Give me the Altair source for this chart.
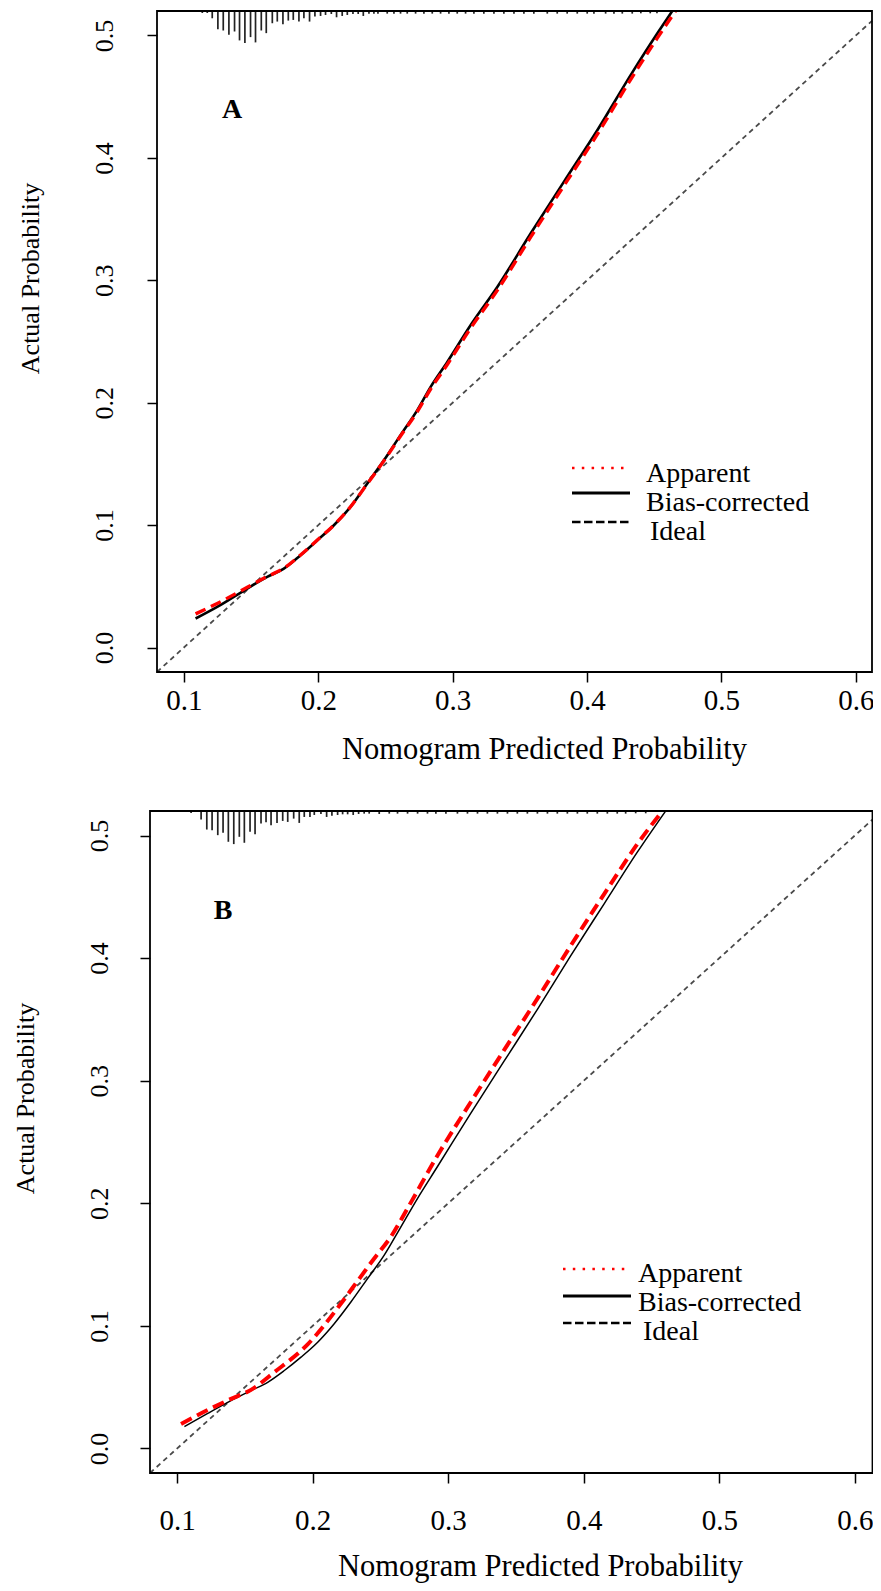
import altair as alt
import pandas as pd

# ---------------- data ----------------
x_ticks = [0.1, 0.2, 0.3, 0.4, 0.5, 0.6]
y_ticks = [0.0, 0.1, 0.2, 0.3, 0.4, 0.5]
legend_labels = ["Apparent", "Bias-corrected", "Ideal"]
panel_labels = ["A", "B"]
x_title = "Nomogram Predicted Probability"
y_title = "Actual Probability"

# Panel A
a_ideal_x = [0.08, 0.612]
a_ideal_y = [-0.02, 0.512]
a_bias_x = [0.1087, 0.1248, 0.1472, 0.1620, 0.1744, 0.1868, 0.1993, 0.2116, 0.2240, 0.2365,
            0.2488, 0.2612, 0.2737, 0.2836, 0.2960, 0.3133, 0.3332, 0.3580, 0.3827, 0.4076,
            0.4324, 0.4522, 0.4634]
a_bias_y = [0.0237, 0.0332, 0.0482, 0.0577, 0.0645, 0.0754, 0.0876, 0.0999, 0.1149, 0.1340,
            0.1529, 0.1735, 0.1939, 0.2129, 0.2333, 0.2633, 0.2945, 0.3382, 0.3804, 0.4226,
            0.4676, 0.5016, 0.5200]
a_app_x = [0.1087, 0.1248, 0.1472, 0.1620, 0.1744, 0.1868, 0.1993, 0.2116, 0.2240, 0.2365,
           0.2488, 0.2612, 0.2737, 0.2836, 0.2960, 0.3133, 0.3332, 0.3580, 0.3827, 0.4076,
           0.4324, 0.4522, 0.4658]
a_app_y = [0.0275, 0.0360, 0.0492, 0.0580, 0.0648, 0.0756, 0.0878, 0.1000, 0.1150, 0.1338,
           0.1525, 0.1728, 0.1928, 0.2112, 0.2312, 0.2608, 0.2918, 0.3352, 0.3772, 0.4192,
           0.4640, 0.4978, 0.5200]
a_rug_x = [0.1137, 0.1174, 0.1211, 0.1253, 0.1293, 0.1335, 0.1377, 0.1414, 0.1454, 0.1496,
           0.1533, 0.1576, 0.1613, 0.1658, 0.1695, 0.1737, 0.1777, 0.1814, 0.1856, 0.1893,
           0.1935, 0.1975, 0.2017, 0.2054, 0.2097, 0.2136, 0.2178, 0.2216, 0.2258, 0.2297,
           0.2335, 0.2377, 0.2414, 0.2444, 0.2513, 0.2563, 0.2612, 0.2662, 0.2724, 0.2786,
           0.2848, 0.2910, 0.2972, 0.3034, 0.3096, 0.3158, 0.3232, 0.3307, 0.3381, 0.3456,
           0.3530, 0.3604, 0.3704, 0.3778, 0.3852, 0.3927, 0.4001, 0.4051, 0.4138, 0.4200,
           0.4262, 0.4336, 0.4400, 0.4470, 0.4520]
a_rug_h = [6, 6, 22, 55, 59, 72, 62, 89, 97, 79,
           95, 59, 67, 37, 32, 40, 29, 27, 32, 22,
           32, 17, 15, 12, 9, 19, 15, 12, 9, 9,
           15, 8, 8, 8, 8, 8, 8, 8, 8, 8,
           8, 8, 8, 8, 8, 8, 8, 8, 8, 8,
           8, 8, 8, 8, 8, 8, 8, 8, 8, 8,
           8, 8, 7, 7, 7]

# Panel B
b_ideal_x = [0.08, 0.613]
b_ideal_y = [-0.02, 0.513]
b_bias_x = [0.1054, 0.1226, 0.1398, 0.1545, 0.1668, 0.1791, 0.1914, 0.2037, 0.2159, 0.2282,
            0.2405, 0.2528, 0.2651, 0.2774, 0.2921, 0.3167, 0.3412, 0.3658, 0.3903, 0.4149,
            0.4395, 0.4604]
b_bias_y = [0.0178, 0.0286, 0.0390, 0.0472, 0.0540, 0.0636, 0.0745, 0.0867, 0.1018, 0.1195,
            0.1386, 0.1577, 0.1808, 0.2041, 0.2300, 0.2736, 0.3159, 0.3582, 0.4018, 0.4441,
            0.4864, 0.5200]
b_app_x = [0.1029, 0.1226, 0.1398, 0.1545, 0.1717, 0.1963, 0.2209, 0.2332, 0.2454, 0.2577,
           0.2700, 0.2921, 0.3167, 0.3412, 0.3658, 0.3903, 0.4149, 0.4395, 0.4580]
b_app_y = [0.0200, 0.0314, 0.0405, 0.0478, 0.0622, 0.0849, 0.1182, 0.1367, 0.1550, 0.1727,
           0.1959, 0.2390, 0.2826, 0.3249, 0.3670, 0.4100, 0.4520, 0.4930, 0.5200]
b_rug_x = [0.1103, 0.1177, 0.1219, 0.1258, 0.1300, 0.1339, 0.1378, 0.1418, 0.1459, 0.1496,
           0.1538, 0.1575, 0.1619, 0.1656, 0.1693, 0.1737, 0.1779, 0.1816, 0.1860, 0.1901,
           0.1938, 0.1980, 0.2012, 0.2061, 0.2103, 0.2142, 0.2184, 0.2221, 0.2258, 0.2299,
           0.2339, 0.2380, 0.2417, 0.2491, 0.2565, 0.2626, 0.2700, 0.2774, 0.2847, 0.2909,
           0.2983, 0.3068, 0.3142, 0.3216, 0.3289, 0.3363, 0.3437, 0.3510, 0.3584, 0.3658,
           0.3732, 0.3805, 0.3879, 0.3953, 0.4026, 0.4100, 0.4174, 0.4247, 0.4309, 0.4383,
           0.4457]
b_rug_h = [6, 26, 56, 58, 73, 66, 93, 100, 78, 96,
           63, 70, 38, 34, 43, 36, 30, 33, 23, 36,
           18, 18, 12, 9, 18, 14, 12, 10, 10, 12,
           9, 8, 8, 9, 8, 8, 8, 8, 8, 8,
           8, 8, 8, 8, 8, 8, 8, 8, 8, 8,
           8, 8, 8, 8, 8, 8, 8, 8, 8, 7,
           7]

# ---------------- styling / layout ----------------
FONT = "Liberation Serif"
Y_DOMAIN = [-0.02, 0.52]
RUG_UNIT = 0.00027
ONE = pd.DataFrame({"k": [0]})
VIEW_W, VIEW_H = 865, 1575


def panel(label, ideal_x, ideal_y, bias_x, bias_y, app_x, app_y, rug_x, rug_h, st):
    xs = alt.Scale(domain=st["xdom"], range=st["xr"], nice=False, zero=False)
    ys = alt.Scale(domain=Y_DOMAIN, range=st["yr"], nice=False, zero=False)
    xax = alt.Axis(orient="bottom", offset=st["xoff"], values=x_ticks, format=".1f",
                   title=x_title, grid=False, domain=False,
                   tickSize=10, tickWidth=1.5, tickColor="black",
                   labelFont=FONT, labelFontSize=29, labelColor="black",
                   labelBaseline="alphabetic", labelPadding=st["xlp"], labelFlush=False,
                   titleFont=FONT, titleFontSize=30.5, titleFontWeight="normal",
                   titleColor="black", titleX=st["xtx"], titleY=st["xty"],
                   titleAlign="center", titleBaseline="alphabetic")
    yax = alt.Axis(orient="left", offset=st["yoff"], values=y_ticks, format=".1f",
                   title=y_title, grid=False, domain=False,
                   tickSize=10, tickWidth=1.5, tickColor="black",
                   labelFont=FONT, labelFontSize=26, labelColor="black",
                   labelAngle=270, labelAlign="center", labelBaseline="alphabetic",
                   labelPadding=st["ylp"], labelFlush=False,
                   titleFont=FONT, titleFontSize=26, titleFontWeight="normal",
                   titleColor="black", titleAngle=270, titleX=st["ytx"], titleY=st["yty"],
                   titleAlign="center", titleBaseline="alphabetic")

    ideal = pd.DataFrame({"x": ideal_x, "y": ideal_y})
    bias = pd.DataFrame({"x": bias_x, "y": bias_y})
    app = pd.DataFrame({"x": app_x, "y": app_y})
    rug = pd.DataFrame({"x": rug_x, "h": rug_h})
    frame = pd.DataFrame({"x0": [st["xdom"][0]], "x1": [st["xdom"][1]],
                          "y0": [Y_DOMAIN[0]], "y1": [Y_DOMAIN[1]]})

    base_ideal = alt.Chart(ideal).mark_line(
        color="#4a4a4a", strokeWidth=1.8, strokeDash=[5, 4]
    ).encode(x=alt.X("x:Q", scale=xs, axis=xax), y=alt.Y("y:Q", scale=ys, axis=yax))

    rug_layer = alt.Chart(rug).transform_calculate(
        ytop=str(Y_DOMAIN[1]), ybot=f"{Y_DOMAIN[1]} - datum.h * {RUG_UNIT}"
    ).mark_rule(color="#222222", strokeWidth=1.7).encode(
        x="x:Q", y="ytop:Q", y2="ybot:Q")

    bias_layer = alt.Chart(bias).mark_line(
        color="black", strokeWidth=st["bw"], interpolate="monotone"
    ).encode(x="x:Q", y="y:Q")

    app_layer = alt.Chart(app).mark_line(
        color="#ff0000", strokeWidth=st["aw"], strokeDash=st["ad"], interpolate="monotone"
    ).encode(x="x:Q", y="y:Q")

    frame_layer = alt.Chart(frame).mark_rect(
        filled=False, stroke="black", strokeWidth=1.8
    ).encode(x="x0:Q", x2="x1:Q", y="y0:Q", y2="y1:Q")

    lx1, lx2 = st["lx"]
    ly, tx, ty = st["ly"], st["tx"], st["ty"]
    leg = [
        alt.Chart(ONE).mark_rule(color="#ff0000", strokeWidth=2.6, strokeDash=[2.5, 7.3],
                                 strokeCap="butt").encode(
            x=alt.value(lx1), x2=alt.value(lx2), y=alt.value(ly[0])),
        alt.Chart(ONE).mark_rule(color="black", strokeWidth=2.8).encode(
            x=alt.value(lx1), x2=alt.value(lx2), y=alt.value(ly[1])),
        alt.Chart(ONE).mark_rule(color="black", strokeWidth=2.4, strokeDash=[8.5, 3.5]).encode(
            x=alt.value(lx1), x2=alt.value(lx2), y=alt.value(ly[2])),
    ]
    for i, lab in enumerate(legend_labels):
        leg.append(alt.Chart(ONE).mark_text(
            text=lab, font=FONT, fontSize=28, color="black", align="left",
            baseline="middle").encode(x=alt.value(tx[i]), y=alt.value(ty[i])))

    letter = alt.Chart(ONE).mark_text(
        text=label, font=FONT, fontSize=28, fontWeight="bold", color="black",
        align="center", baseline="middle").encode(
        x=alt.value(st["px"]), y=alt.value(st["py"]))

    return alt.layer(base_ideal, rug_layer, bias_layer, app_layer, frame_layer, *leg, letter)


# positions are in view pixels (page pixels minus the 8px margin)
style_a = dict(xdom=[0.08, 0.612], xr=[149, 864], yr=[664, 3],
               xoff=-(VIEW_H - 664), yoff=-149,
               xlp=27, xtx=536, xty=86, ylp=35, ytx=-119, yty=270,
               bw=2.6, aw=3.4, ad=[11, 6],
               lx=(564, 622), ly=(460, 485, 514), tx=(638, 638, 642), ty=(466, 495, 524),
               px=224, py=102)
style_b = dict(xdom=[0.08, 0.613], xr=[142, 864.5], yr=[1465, 803],
               xoff=-(VIEW_H - 1465), yoff=-142,
               xlp=46, xtx=532, xty=102, ylp=33, ytx=-117, yty=1090,
               bw=1.5, aw=4.0, ad=[12, 6],
               lx=(555, 623), ly=(1261, 1288, 1315), tx=(630, 630, 635), ty=(1266, 1295, 1324),
               px=215, py=903)

pa = panel(panel_labels[0], a_ideal_x, a_ideal_y, a_bias_x, a_bias_y, a_app_x, a_app_y,
           a_rug_x, a_rug_h, style_a)
pb = panel(panel_labels[1], b_ideal_x, b_ideal_y, b_bias_x, b_bias_y, b_app_x, b_app_y,
           b_rug_x, b_rug_h, style_b)

chart = alt.layer(pa, pb).resolve_scale(
    x="independent", y="independent"
).resolve_axis(x="independent", y="independent").properties(
    width=VIEW_W, height=VIEW_H, padding=0,
    autosize=alt.AutoSizeParams(type="none")
).configure_view(strokeWidth=0)

chart.save("out.html", embed_options={"renderer": "svg", "actions": False})
